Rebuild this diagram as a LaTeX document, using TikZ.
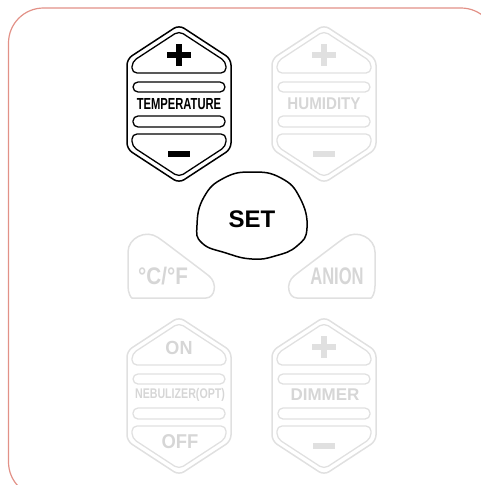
\documentclass[tikz,border=0pt]{standalone}
\usepackage{fontspec}
\setmainfont{Liberation Sans}
\usepackage{graphicx}
\definecolor{framec}{RGB}{226,145,135}
\definecolor{faded}{RGB}{224,224,224}
\definecolor{fadedtxt}{RGB}{214,214,214}
\tikzset{
  framestyle/.style={draw=framec,line width=1.2pt,rounded corners=35pt},
  btnline/.style={line width=1.5pt,rounded corners=6pt},
  innerline/.style={line width=1.3pt,rounded corners=5pt},
  bar/.style={line width=5.5pt},
  lbl/.style={inner sep=0pt,font=\bfseries},
}
\newcommand\hexbtn[1]{%
  \draw[btnline,#1] (52,0) -- (104,34) -- (104,124) -- (52,158) -- (0,124) -- (0,34) -- cycle;
  \draw[innerline,#1] (52,6) -- (99,36.7) -- (99,48) -- (5,48) -- (5,36.7) -- cycle;
  \draw[#1,line width=1.3pt,rounded corners=5pt] (6,57) rectangle (98,67);
  \draw[#1,line width=1.3pt,rounded corners=5pt] (6,91) rectangle (98,102);
  \draw[innerline,#1] (5,109) -- (99,109) -- (99,121.3) -- (52,152) -- (5,121.3) -- cycle;
}
\newcommand\plusmark[1]{\draw[bar,#1] (52,19) -- (52,41) (40,30) -- (64,30);}
\newcommand\minusmark[1]{\draw[#1,line width=6pt] (41,129) -- (63,129);}
\newcommand\cfpath{(128,286) -- (128,258) .. controls (128,238) and (146,229) .. (163,241)
    -- (204,272) .. controls (218,283) and (215,298) .. (200,298) -- (138,298)
    .. controls (131,298) and (128,293) .. (128,286)}
\begin{document}
\begin{tikzpicture}[x=1pt,y=-1pt]
\useasboundingbox (0,0) rectangle (481,485);
\begin{scope}
  \clip (0,0) rectangle (481,485);
  \draw[framestyle] (8.5,8) rectangle (496,497);
\end{scope}
% Temperature
\begin{scope}[shift={(127,25)}]
  \hexbtn{black}
  \plusmark{black}
  \minusmark{black}
  \node[lbl] (temp) at (52,79) {\fontsize{16}{16}\selectfont\scalebox{0.7}[1]{TEMPERATURE}};
\end{scope}
% Humidity
\begin{scope}[shift={(272,25)}]
  \hexbtn{faded}
  \plusmark{faded}
  \minusmark{faded}
  \node[lbl,text=fadedtxt] (hum) at (52,79) {\fontsize{17}{17}\selectfont\scalebox{0.89}[1]{HUMIDITY}};
\end{scope}
% Nebulizer
\begin{scope}[shift={(127,317)}]
  \hexbtn{faded}
  \node[lbl,text=fadedtxt] (on) at (52,31) {\fontsize{19}{19}\selectfont\scalebox{0.95}[1]{ON}};
  \node[lbl,text=fadedtxt] (neb) at (53,78) {\fontsize{14}{14}\selectfont\scalebox{0.76}[1]{NEBULIZER(OPT)}};
  \node[lbl,text=fadedtxt] (off) at (53,125) {\fontsize{20}{20}\selectfont\scalebox{0.92}[1]{OFF}};
\end{scope}
% Dimmer
\begin{scope}[shift={(272,317)}]
  \hexbtn{faded}
  \plusmark{faded}
  \minusmark{faded}
  \node[lbl,text=fadedtxt] (dim) at (53,78) {\fontsize{17}{17}\selectfont DIMMER};
\end{scope}
% SET
\draw[line width=1.5pt] plot[smooth cycle,tension=0.8] coordinates {(197,225) (204,197) (224,178) (252,172) (281,178) (300,198) (307,228) (297,246) (275,256) (252,259) (226,253) (202,243)};
\node[lbl] (set) at (252,219) {\fontsize{24}{24}\selectfont SET};
% C/F and ANION
\draw[btnline,faded] \cfpath;
\begin{scope}[xshift=503pt,xscale=-1]
  \draw[btnline,faded] \cfpath;
\end{scope}
\node[lbl,text=fadedtxt] (cf) at (163,276) {\fontsize{24}{24}\selectfont\scalebox{0.86}[1]{°C/°F}};
\node[lbl,text=fadedtxt] (anion) at (337,276) {\fontsize{24}{24}\selectfont\scalebox{0.69}[1]{ANION}};
\end{tikzpicture}
\end{document}
